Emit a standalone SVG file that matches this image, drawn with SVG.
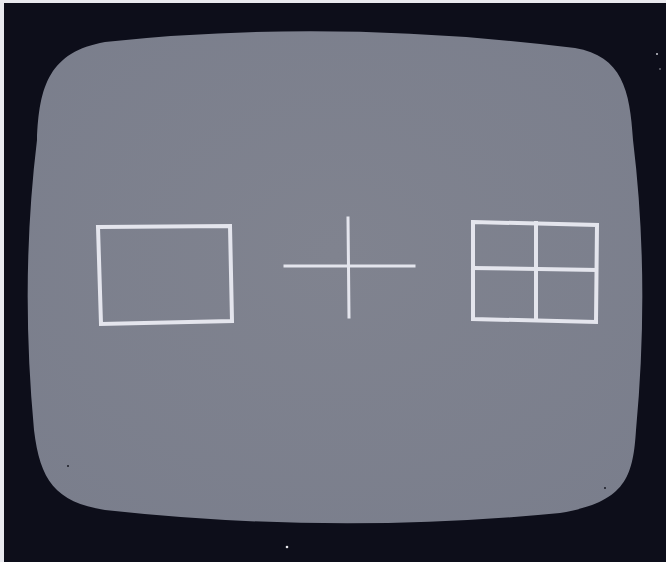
<svg xmlns="http://www.w3.org/2000/svg" width="666" height="562" viewBox="0 0 666 562">
  <style>
    .ln { fill: none; stroke: #e4e5ed; stroke-width: 4; stroke-linecap: square; stroke-linejoin: miter; }
    .thin { stroke-width: 3; }
  </style>
  <defs>
    <radialGradient id="scr" cx="0.5" cy="0.45" r="0.7">
      <stop offset="0" stop-color="#80838f"/>
      <stop offset="1" stop-color="#7a7e8c"/>
    </radialGradient>
  </defs>
  <rect x="0" y="0" width="666" height="562" fill="#e9e9ee"/>
  <rect x="4" y="3" width="662" height="559" fill="#0d0e1a"/>
  <g id="screen">
    <path d="M 37,140 C 39,85 50,52 105,42 Q 333,18 575,48 C 622,56 630,90 633,140 Q 650,280 636,430 C 633,478 625,502 560,513 Q 333,535 105,510 C 55,502 40,480 34,430 Q 20,280 37,140 Z" fill="url(#scr)"/>
  </g>
  <g id="rectangle">
    <polygon class="ln" points="98,227 230,226 232,321 101,324"/>
  </g>
  <g id="cross">
    <line class="ln thin" x1="285" y1="266" x2="414" y2="266"/>
    <line class="ln thin" x1="348" y1="218" x2="349" y2="317"/>
  </g>
  <g id="grid">
    <polygon class="ln" points="473,222 597,225 596,322 473,319"/>
    <line class="ln" x1="536" y1="223" x2="536" y2="320"/>
    <line class="ln" x1="473" y1="268" x2="596" y2="270"/>
  </g>
  <g id="specks">
    <circle cx="287" cy="547" r="1.3" fill="#e9e9ee"/>
    <circle cx="657" cy="54" r="1" fill="#c9cad2"/>
    <circle cx="660" cy="69" r="0.8" fill="#a9aab2"/>
    <circle cx="68" cy="466" r="1" fill="#1a1b25"/>
    <circle cx="605" cy="488" r="1" fill="#1a1b25"/>
  </g>
</svg>
